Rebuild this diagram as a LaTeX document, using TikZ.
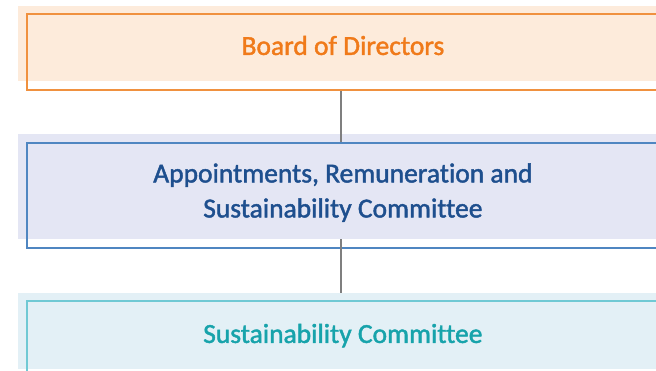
\documentclass[tikz,border=0pt]{standalone}
\usepackage{fontspec}
\setmainfont{Carlito}[Ligatures=NoCommon, FakeBold=1.6]
\usetikzlibrary{positioning}

\definecolor{boardline}{HTML}{F0913F}
\definecolor{boardfill}{HTML}{FDEBDB}
\definecolor{boardtext}{HTML}{F07A1A}
\definecolor{arscline}{HTML}{4F86C1}
\definecolor{arscfill}{HTML}{E4E6F4}
\definecolor{arsctext}{HTML}{1E4F8E}
\definecolor{scline}{HTML}{70C9D4}
\definecolor{scfill}{HTML}{E3F0F6}
\definecolor{sctext}{HTML}{17A3AB}
\definecolor{linkgray}{HTML}{7F7F7F}

\tikzset{
	tierbg/.style={fill=#1, draw=none, inner sep=0pt, anchor=north west, minimum width=640pt},
	tierbox/.style={draw=#1, line width=1.8pt, inner sep=0pt, anchor=north west, minimum width=632pt,
		align=center, font=\fontsize{27.5}{35}\selectfont},
	link/.style={draw=linkgray, line width=1.8pt}
}

\begin{document}
\begin{tikzpicture}[x=1pt,y=-1pt]
	\clip (0,0) rectangle (656,371);
	% shaded bands
	\node[tierbg=boardfill, minimum height=75pt] (boardbg) at (18,6) {};
	\node[tierbg=arscfill, minimum height=105pt] (arscbg) at (18,134) {};
	\node[tierbg=scfill, minimum height=76pt] (scbg) at (18,293) {};
	% framed boxes
	\node[tierbox=boardline, minimum height=76pt, text=boardtext, text height=19pt, text depth=13pt] (board) at (26,13) {Board of Directors};
	\node[tierbox=arscline, minimum height=105pt, text=arsctext, text depth=10pt] (arsc) at (26,142) {Appointments, Remuneration and\\Sustainability Committee};
	\node[tierbox=scline, minimum height=76pt, text=sctext, text height=19pt, text depth=11pt] (sc) at (26,300) {Sustainability Committee};
	% links
	\draw[link] ([xshift=-2pt]arsc.north) -- ([xshift=-2pt]arsc.north |- board.south);
	\draw[link] ([xshift=-2pt]arsc.north |- arscbg.south) -- ([xshift=-2pt]arsc.north |- scbg.north);
\end{tikzpicture}
\end{document}
